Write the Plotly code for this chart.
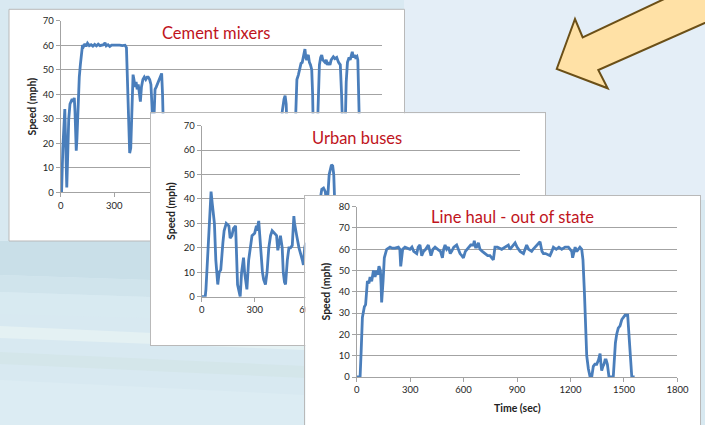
import plotly.graph_objects as go

# ---------------- data ----------------
cement_time = [0, 5, 12, 18, 23, 27, 31, 34, 38, 45, 52, 58, 64, 70, 76, 80, 84, 87, 91, 97, 104, 110, 116, 122,
               128, 135, 142, 150, 160, 170, 180, 190, 200, 210, 220, 230, 240, 248, 255, 265, 275, 285, 300, 315,
               330, 345, 360, 368, 375, 381, 386, 392, 398, 405, 410, 416, 422, 428, 434, 440, 446, 452, 460, 468,
               476, 484, 490, 498, 505, 511, 516, 522, 528, 535, 546, 556, 565, 570, 574, 580, 600, 620, 650, 680,
               700, 720, 740, 760, 780, 820, 850, 880, 900, 920, 940, 980, 1020, 1050, 1080, 1100, 1120, 1150, 1180,
               1220, 1232, 1240, 1250, 1256, 1262, 1268, 1275, 1285, 1300, 1310, 1316, 1322, 1330, 1337, 1345, 1352,
               1358, 1363, 1367, 1372, 1377, 1381, 1386, 1392, 1398, 1405, 1410, 1415, 1422, 1430, 1436, 1442, 1448,
               1455, 1461, 1467, 1473, 1479, 1486, 1493, 1500, 1507, 1514, 1520, 1526, 1535, 1545, 1555, 1565, 1572,
               1578, 1585, 1592, 1598, 1605, 1614, 1620, 1626, 1632, 1638, 1644, 1650, 1658, 1663, 1668, 1673, 1680,
               1690]
cement_speed = [0, 0, 18, 28, 34, 22, 8, 2, 12, 30, 36, 37, 38, 37, 38.5, 33, 20, 17, 22, 38, 47, 52, 58, 60,
                59.5, 60.5, 59.5, 60.8, 59.8, 60.2, 59.6, 60.3, 59.7, 60.4, 59.8, 60, 60.2, 61, 59.7, 60.2, 59.5, 60,
                60.1, 59.9, 60, 59.8, 60, 59, 45, 25, 16, 18, 35, 48, 46, 43, 45, 42, 44, 40, 37, 43, 46, 47,
                46, 47, 47, 46, 44, 35, 25, 30, 42, 43, 45, 47, 48.5, 40, 25, 10, 5, 0, 0, 8,
                20, 25, 18, 5, 0, 0, 10, 22, 28, 15, 3, 0, 0, 12, 24, 30, 20, 8, 0,
                0, 20, 33, 38, 39.4, 36, 25, 8, 0, 0, 20, 38, 46, 47.8, 50, 52.6, 53,
                55, 56, 58.4, 55, 54, 55.5, 56, 53, 52, 50, 40, 20, 8, 10, 25, 45, 52,
                55, 56, 54, 53.5, 53, 54, 52, 53, 52, 54, 55, 55.3, 54.5, 55, 53, 52, 40,
                20, 10, 25, 45, 53, 55, 54, 56, 57.3, 55, 56, 55, 55.5, 54, 40, 20, 3,
                0]

bus_time = [0, 20, 24, 35, 43, 53, 60, 66, 72, 80, 85, 91, 99, 108, 120, 127, 139, 154, 161, 171, 180, 192,
            203, 209, 218, 226, 237, 243, 251, 256, 266, 275, 285, 300, 310, 313, 323, 329, 336, 344, 351, 361,
            370, 380, 390, 399, 412, 424, 431, 441, 446, 456, 462, 469, 475, 485, 494, 503, 513, 522, 526, 538,
            551, 570, 576, 583, 589, 600, 620, 640, 660, 672, 680, 690, 700, 708, 715, 722, 728, 735, 742, 748,
            755, 765, 780, 795, 810, 830, 845, 860, 875, 890, 905, 920, 935, 950, 965, 980, 995, 1010, 1025,
            1040, 1055, 1070, 1085, 1100, 1115, 1130, 1145, 1160, 1175, 1190, 1205, 1220, 1235, 1250, 1265,
            1280, 1295, 1310, 1330]
bus_speed = [0, 0, 3, 20, 30, 43, 38, 35, 30, 15, 10, 5, 10, 11, 22, 27, 30, 29, 24, 25, 28, 29,
             5, 3, 0, 10, 16, 10, 5, 3, 15, 20, 25, 26, 29, 27, 31, 25, 17, 10, 7, 5,
             10, 20, 25, 27, 26, 25, 19, 23, 25, 20, 10, 6, 5, 15, 20, 20, 21, 33, 30, 25,
             20, 15, 13, 20, 22, 20, 15, 25, 35, 42, 44, 44.5, 43, 38, 42, 50, 52, 54, 53.5, 50,
             35, 20, 12, 5, 0, 0, 10, 22, 28, 24, 15, 8, 18, 26, 30, 22, 12, 5, 14,
             24, 27, 20, 10, 3, 0, 8, 18, 25, 29, 22, 12, 6, 15, 23, 26,
             19, 8, 0, 0]

haul_time = [0, 19, 25, 32, 43, 50, 60, 69, 75, 84, 94, 103, 112, 118, 125, 133, 137, 140, 148, 155, 168,
             187, 200, 215, 234, 242, 247, 252, 258, 271, 285, 299, 310, 320, 337, 345, 355, 365, 375, 387,
             402, 410, 417, 428, 440, 455, 470, 481, 488, 496, 505, 515, 525, 533, 545, 561, 570, 580, 590,
             599, 610, 627, 640, 655, 660, 667, 673, 683, 692, 705, 720, 735, 748, 758, 767, 776, 790, 814,
             830, 851, 860, 870, 880, 889, 900, 917, 936, 945, 954, 965, 982, 990, 1001, 1015, 1029, 1040,
             1048, 1060, 1085, 1095, 1104, 1120, 1135, 1151, 1170, 1188, 1198, 1207, 1212, 1220, 1226, 1235,
             1245, 1253, 1263, 1270, 1278, 1285, 1291, 1300, 1310, 1319, 1328, 1337, 1347, 1357, 1366, 1370,
             1375, 1382, 1388, 1394, 1400, 1407, 1416, 1440, 1446, 1452, 1459, 1468, 1478, 1488, 1497, 1506,
             1516, 1521, 1528, 1534, 1540, 1544, 1560]
haul_speed = [0, 0, 12, 28, 33, 34, 45, 44, 47, 45, 50, 47, 50, 48, 52, 50, 43, 35, 45, 56, 60,
              61, 60.5, 60.5, 61, 60, 52, 56, 60, 61, 60.5, 60, 61, 59, 58, 61, 62, 57, 59, 60,
              62, 59, 57, 60, 61, 60, 59, 56, 60, 62, 60, 61, 58, 59, 61, 62, 60, 58, 57,
              56, 59, 61, 62, 62, 64, 61, 61, 63, 60, 59, 58, 57, 57, 56, 55, 61, 61, 60,
              61, 62, 60, 61, 62, 63, 61, 59, 58, 60, 62, 60, 59, 60, 61, 62, 63.5, 59,
              58, 58, 57, 59, 61, 60, 61, 60, 61, 61, 60, 59, 56, 60, 61, 59,
              60, 61, 60, 55, 40, 22, 10, 4, 0, 0, 5, 6, 6, 8, 11, 7,
              3, 5, 6, 8, 8, 6, 0, 0, 10, 16, 20, 23, 24, 27, 28, 29,
              29, 29, 20, 10, 3, 0, 0]

time_ticks = [0, 300, 600, 900, 1200, 1500, 1800]
speed_ticks_70 = [0, 10, 20, 30, 40, 50, 60, 70]
speed_ticks_80 = [0, 10, 20, 30, 40, 50, 60, 70, 80]

titles = ["Cement mixers", "Urban buses", "Line haul - out of state"]
y_title = "Speed (mph)"
x_title = "Time (sec)"

# ---------------- layout helpers ----------------
W, H = 705, 425
def px(x):
    return x / W
def py(y):
    return 1 - y / H

LINE = '#4a7ebb'
GRID = '#a3a3a3'
PANEL_LINE = '#b9b9b9'
FONT = 'Lato'
TICKFONT = dict(family=FONT, size=9.5, color='#262626')

fig = go.Figure()

# dummy full-paper subplot (keeps every other subplot "overlapping" so each gets its own background)
fig.add_trace(go.Scatter(x=[], y=[], xaxis='x', yaxis='y', hoverinfo='skip'))
fig.add_trace(go.Scatter(x=cement_time, y=cement_speed, mode='lines', xaxis='x2', yaxis='y2',
                         line=dict(color=LINE, width=2.8), hoverinfo='skip'))
fig.add_trace(go.Scatter(x=[], y=[], xaxis='x3', yaxis='y3', hoverinfo='skip'))
fig.add_trace(go.Scatter(x=bus_time, y=bus_speed, mode='lines', xaxis='x4', yaxis='y4',
                         line=dict(color=LINE, width=2.8), hoverinfo='skip'))
fig.add_trace(go.Scatter(x=[], y=[], xaxis='x5', yaxis='y5', hoverinfo='skip'))
fig.add_trace(go.Scatter(x=haul_time, y=haul_speed, mode='lines', xaxis='x6', yaxis='y6',
                         line=dict(color=LINE, width=2.8), hoverinfo='skip'))

hidden_axis = dict(range=[0, 1], showgrid=False, zeroline=False, showticklabels=False, ticks='',
                   fixedrange=True, automargin=False)

def chart_x(dom, anchor):
    return dict(domain=dom, anchor=anchor, range=[0, 1800], tickvals=time_ticks, ticks='outside',
                ticklen=4, tickcolor=GRID, showgrid=False, showline=True, linecolor=GRID, linewidth=1,
                zeroline=False, tickfont=TICKFONT, fixedrange=True, automargin=False)

def chart_y(dom, anchor, ticks, top):
    return dict(domain=dom, anchor=anchor, range=[0, top], tickvals=ticks, ticks='outside', ticklen=4,
                tickcolor=GRID, showgrid=True, gridcolor=GRID, gridwidth=1, showline=True, linecolor=GRID,
                linewidth=1, zeroline=False, tickfont=TICKFONT, fixedrange=True, automargin=False)

layout = dict(
    template='none',
    width=W, height=H, margin=dict(l=0, r=0, t=0, b=0, pad=0), autosize=False,
    paper_bgcolor='#d8e9f1', plot_bgcolor='white', showlegend=False,
    xaxis=dict(domain=[0, 1], anchor='y', **hidden_axis),
    yaxis=dict(domain=[0, 1], anchor='x', **hidden_axis),
    # chart 1
    xaxis2=chart_x([px(60.7), px(382.3)], 'y2'),
    yaxis2=chart_y([py(192.3), py(20.7)], 'x2', speed_ticks_70, 70),
    # panel 2
    xaxis3=dict(domain=[px(150.5), px(545.3)], anchor='y3', showline=True, mirror=True,
                linecolor=PANEL_LINE, **hidden_axis),
    yaxis3=dict(domain=[py(345), py(113.3)], anchor='x3', showline=True, mirror=True,
                linecolor=PANEL_LINE, **hidden_axis),
    # chart 2
    xaxis4=chart_x([px(201.7), px(519.5)], 'y4'),
    yaxis4=chart_y([py(296.7), py(125.7)], 'x4', speed_ticks_70, 70),
    # panel 3
    xaxis5=dict(domain=[px(305.3), px(700.3)], anchor='y5', showline=True, side='top',
                linecolor=PANEL_LINE, **hidden_axis),
    yaxis5=dict(domain=[0, py(195.7)], anchor='x5', showline=True, mirror=True,
                linecolor=PANEL_LINE, **hidden_axis),
    # chart 3
    xaxis6=chart_x([px(356.7), px(677.4)], 'y6'),
    yaxis6=chart_y([py(377), py(206.7)], 'x6', speed_ticks_80, 80),
)
fig.update_layout(**layout)

# ---------------- background & panel 1 ----------------
def poly(points):
    return 'M ' + ' L '.join(f'{px(a):.5f},{py(b):.5f}' for a, b in points) + ' Z'

shapes = [
    dict(type='rect', xref='paper', yref='paper', x0=0, x1=1, y0=0, y1=1,
         fillcolor='#d8e9f1', line=dict(width=0), layer='below'),
    dict(type='path', xref='paper', yref='paper', path=poly([(404, 0), (705, 0), (705, 200), (404, 200)]),
         fillcolor='#e4eef7', line=dict(width=0), layer='below'),
    dict(type='path', xref='paper', yref='paper', path=poly([(0, 241), (305, 241), (305, 285), (0, 275)]),
         fillcolor='#c9dfe8', line=dict(width=0), layer='below'),
    dict(type='path', xref='paper', yref='paper', path=poly([(0, 275), (305, 285), (305, 302), (0, 292)]),
         fillcolor='#d0e4ec', line=dict(width=0), layer='below'),
    dict(type='path', xref='paper', yref='paper', path=poly([(0, 292), (305, 302), (305, 322), (0, 314)]),
         fillcolor='#d8eaf1', line=dict(width=0), layer='below'),
    dict(type='path', xref='paper', yref='paper', path=poly([(0, 326), (305, 340), (305, 350), (0, 338)]),
         fillcolor='#e4f1f3', line=dict(width=0), layer='below'),
    dict(type='path', xref='paper', yref='paper', path=poly([(0, 352), (305, 366), (305, 378), (0, 364)]),
         fillcolor='#d4e6ea', line=dict(width=0), layer='below'),
    dict(type='path', xref='paper', yref='paper', path=poly([(0, 380), (305, 395), (305, 425), (0, 425)]),
         fillcolor='#dcecf3', line=dict(width=0), layer='below'),
    dict(type='path', xref='paper', yref='paper', path=poly([(0, 0), (404, 0), (404, 9), (0, 9)]),
         fillcolor='#d9e9f2', line=dict(width=0), layer='below'),
    # panel 1
    dict(type='rect', xref='paper', yref='paper', x0=px(9), x1=px(404.5), y0=py(241), y1=py(9.3),
         fillcolor='white', line=dict(color=PANEL_LINE, width=1), layer='below'),
    # arrow
    dict(type='path', xref='paper', yref='paper',
         path=poly([(556.7, 69), (575, 19), (582.7, 37.3), (740, -36.6), (760, -1.5),
                    (598.3, 70), (607.7, 88.3)]),
         fillcolor='#ffe1a6', line=dict(color='#6b4f17', width=2), layer='above'),
]
fig.update_layout(shapes=shapes)

# ---------------- text ----------------
ann = []
for text, cx, cy in [(titles[0], 215.5, 33), (titles[1], 357, 138), (titles[2], 512.5, 217)]:
    ann.append(dict(text=text, x=px(cx), y=py(cy), xref='paper', yref='paper', showarrow=False,
                    xanchor='center', yanchor='middle',
                    font=dict(family=FONT, size=16.5, color='#c0141c')))
for cx, cy in [(31, 106.5), (170.7, 211.2), (325.7, 291.8)]:
    ann.append(dict(text='<b>' + y_title + '</b>', x=px(cx), y=py(cy), xref='paper', yref='paper',
                    showarrow=False, textangle=-90, xanchor='center', yanchor='middle',
                    font=dict(family=FONT, size=10.5, color='#222222')))
ann.append(dict(text='<b>' + x_title + '</b>', x=px(517), y=py(408), xref='paper', yref='paper',
                showarrow=False, xanchor='center', yanchor='middle',
                font=dict(family=FONT, size=10.5, color='#222222')))
fig.update_layout(annotations=ann)

fig.write_html("out.html", config=dict(displayModeBar=False),
               post_script="document.body.style.margin='0';document.body.style.overflow='hidden';")
